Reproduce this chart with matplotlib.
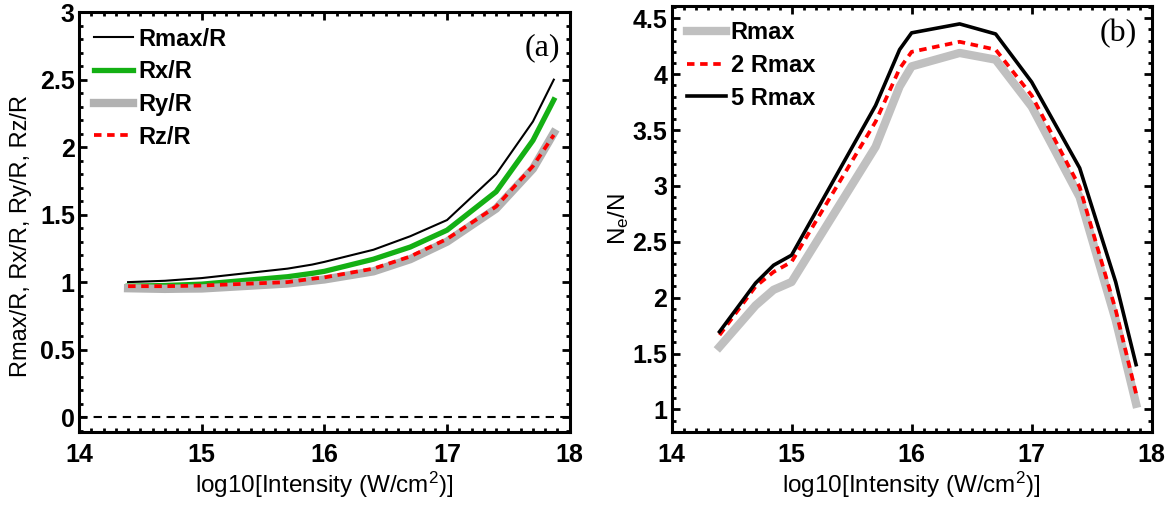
import numpy as np
import matplotlib
matplotlib.use('Agg')
import matplotlib.pyplot as plt
from matplotlib.ticker import MultipleLocator, FormatStrFormatter

# intensity grid, log10(W/cm^2)
x = [14.4, 14.7, 14.85, 15.0, 15.7, 15.9, 16.0, 16.4, 16.7, 17.0, 17.4, 17.7, 17.87]

# panel (a): radii ratios
rmax_r = [1.00, 1.01, 1.02, 1.03, 1.10, 1.13, 1.15, 1.24, 1.34, 1.46, 1.80, 2.19, 2.50]
rx_r = [0.97, 0.975, 0.98, 0.985, 1.04, 1.065, 1.08, 1.17, 1.26, 1.385, 1.67, 2.05, 2.35]
ry_r = [0.955, 0.95, 0.952, 0.953, 0.99, 1.01, 1.02, 1.08, 1.17, 1.30, 1.545, 1.84, 2.105]
rz_r = [0.97, 0.97, 0.972, 0.975, 1.00, 1.025, 1.035, 1.10, 1.19, 1.32, 1.56, 1.86, 2.09]

# panel (b): Ne/N for different box sizes
ne_1 = [1.56, 1.93, 2.07, 2.14, 3.35, 3.89, 4.07, 4.19, 4.13, 3.71, 2.90, 1.80, 1.05]
ne_2 = [1.665, 2.10, 2.23, 2.32, 3.575, 4.05, 4.20, 4.29, 4.22, 3.81, 2.99, 1.89, 1.14]
ne_5 = [1.695, 2.13, 2.29, 2.38, 3.72, 4.22, 4.37, 4.45, 4.36, 3.93, 3.16, 2.14, 1.40]

plt.rcParams['font.family'] = ['Liberation Sans', 'DejaVu Sans']
plt.rcParams['mathtext.fontset'] = 'custom'
plt.rcParams['mathtext.rm'] = 'Liberation Sans'
plt.rcParams['mathtext.it'] = 'Liberation Sans'

fig = plt.figure(figsize=(11.74, 5.07), dpi=100)
ax1 = fig.add_axes([0.0673, 0.148, 0.418, 0.828])
ax2 = fig.add_axes([0.572, 0.1485, 0.409, 0.8396])


def style(ax):
    for s in ax.spines.values():
        s.set_linewidth(2.2)
    ax.tick_params(which='both', direction='in', top=True, right=True, width=2)
    ax.tick_params(which='major', length=6, labelsize=18)
    ax.tick_params(which='minor', length=3)
    ax.tick_params(axis='x', pad=8)
    ax.tick_params(axis='y', pad=3)
    ax.xaxis.set_major_locator(MultipleLocator(1))
    ax.xaxis.set_minor_locator(MultipleLocator(0.1))
    ax.yaxis.set_major_locator(MultipleLocator(0.5))
    ax.yaxis.set_minor_locator(MultipleLocator(0.1))
    ax.yaxis.set_major_formatter(FormatStrFormatter('%g'))
    for lab in ax.get_xticklabels() + ax.get_yticklabels():
        lab.set_fontweight('bold')
    ax.set_xlim(14, 18)
    ax.set_xlabel(r'log10[Intensity (W/cm$^\mathrm{2}$)]', fontsize=17.5, labelpad=2)


leg_kw = dict(loc='upper left', frameon=False, handlelength=1.65, handletextpad=0.2,
              labelspacing=0.41, borderaxespad=0.25, prop={'weight': 'bold', 'size': 17})

# (a)
ax1.plot(x, rmax_r, color='black', lw=1.5, label='Rmax/R')
ax1.plot(x, rx_r, color='#14b014', lw=3.8, label='Rx/R')
ax1.plot(x, ry_r, color='#b2b2b2', lw=6, label='Ry/R')
ax1.plot(x, rz_r, color='red', lw=2.7, ls=(0, (2, 1.5)), label='Rz/R')
ax1.axhline(0, color='black', lw=1.5, ls=(0, (4, 3)))
ax1.set_ylim(-0.11, 3)
ax1.set_ylabel('Rmax/R, Rx/R, Ry/R, Rz/R', fontsize=17, labelpad=4)
style(ax1)
ax1.yaxis.set_label_coords(-0.095, 0.467)
ax1.legend(**leg_kw)
ax1.text(0.98, 0.95, '(a)', transform=ax1.transAxes, ha='right', va='top',
         fontsize=23, family='Liberation Serif')

# (b)
ax2.plot(x, ne_1, color='#c0c0c0', lw=6, label='Rmax')
ax2.plot(x, ne_2, color='red', lw=2.7, ls=(0, (2, 1.5)), label='2 Rmax')
ax2.plot(x, ne_5, color='black', lw=2.6, label='5 Rmax')
ax2.set_ylim(0.8, 4.61)
ax2.set_ylabel(r'N$_\mathrm{e}$/N', fontsize=17.5, labelpad=1)
style(ax2)
ax2.legend(**leg_kw)
ax2.text(0.97, 0.97, '(b)', transform=ax2.transAxes, ha='right', va='top',
         fontsize=23, family='Liberation Serif')

fig.savefig('out.png', dpi=100)
